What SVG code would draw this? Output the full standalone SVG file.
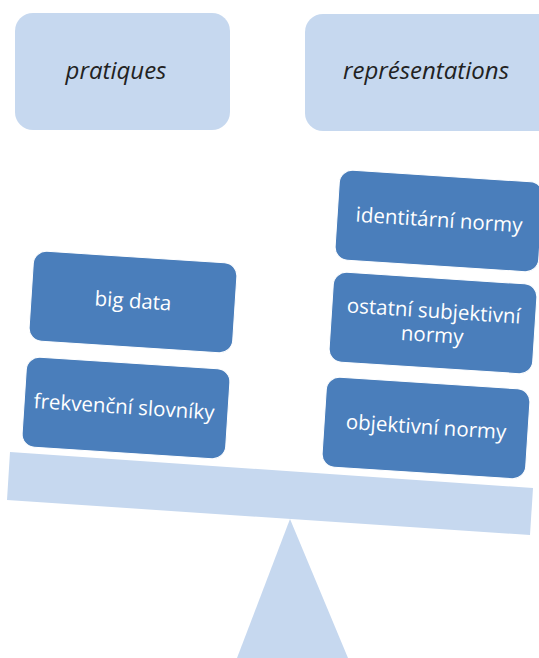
<svg xmlns="http://www.w3.org/2000/svg" width="539" height="658" viewBox="0 0 539 658">
<style>
.light{fill:#C6D8EF}
.dark{fill:#4A7EBB;stroke:#ffffff;stroke-width:1}
.hd{font-family:"Open Sans","Liberation Sans",sans-serif;font-style:italic;font-size:24px;fill:#222222;text-anchor:middle}
.lb{font-family:"Open Sans","Liberation Sans",sans-serif;font-size:20.5px;fill:#ffffff;text-anchor:middle}
</style>
<rect width="539" height="658" fill="#ffffff"/>
<g id="pratiques">
<rect class="light" x="15" y="13" width="215" height="117" rx="18"/>
<text class="hd" x="116" y="79">pratiques</text>
</g>
<g id="representations">
<rect class="light" x="305" y="14" width="250" height="117" rx="18"/>
<text class="hd" x="426" y="79">représentations</text>
</g>
<g id="fulcrum">
<polygon class="light" points="290,519 237,658 348,658"/>
</g>
<g id="beam">
<polygon class="light" points="10,452 533,488 530,535 7,500"/>
</g>
<g id="big-data" transform="translate(133,302) rotate(3.7)">
<rect class="dark" x="-102" y="-45" width="204" height="90" rx="13"/>
<text class="lb" x="0" y="6">big data</text>
</g>
<g id="frekvencni-slovniky" transform="translate(126,408) rotate(3.7)">
<rect class="dark" x="-102" y="-45" width="204" height="90" rx="13"/>
<text class="lb" x="-2" y="6">frekvenční slovníky</text>
</g>
<g id="identitarni-normy" transform="translate(439,221) rotate(3.7)">
<rect class="dark" x="-102" y="-45" width="204" height="90" rx="13"/>
<text class="lb" x="0" y="6">identitární normy</text>
</g>
<g id="ostatni-subjektivni-normy" transform="translate(433,323) rotate(3.7)">
<rect class="dark" x="-102" y="-45" width="204" height="90" rx="13"/>
<text class="lb" x="0" y="-5">ostatní subjektivní</text>
<text class="lb" x="0" y="19">normy</text>
</g>
<g id="objektivni-normy" transform="translate(426,428) rotate(3.7)">
<rect class="dark" x="-102" y="-45" width="204" height="90" rx="13"/>
<text class="lb" x="0" y="6">objektivní normy</text>
</g>
<g id="connectors"></g>
</svg>
